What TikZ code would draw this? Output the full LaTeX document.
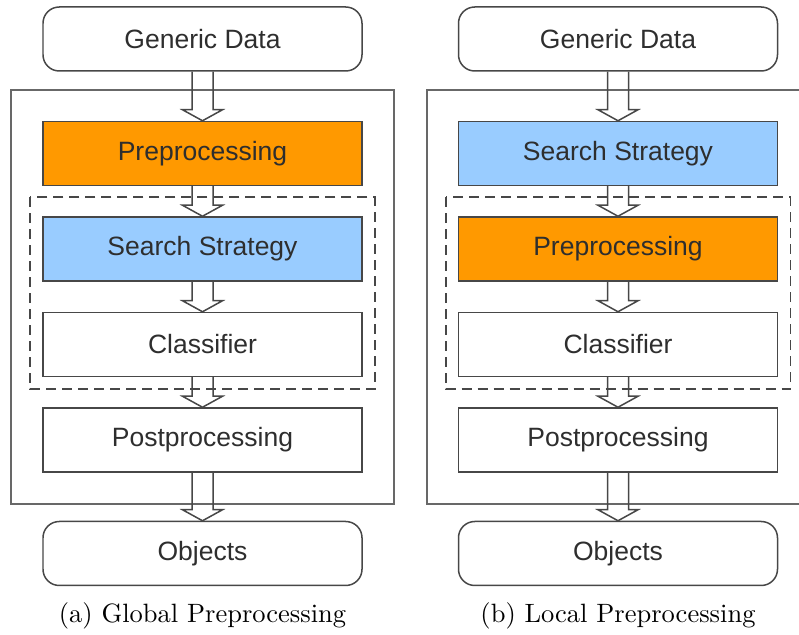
\documentclass[tikz,border=0pt]{standalone}
\usepackage{fontspec}
\setsansfont{Liberation Sans}
\usetikzlibrary{positioning, fit, calc}

\definecolor{prepfill}{HTML}{FF9900}
\definecolor{searchfill}{HTML}{99CCFF}
\definecolor{edgegray}{HTML}{474747}
\definecolor{framegray}{HTML}{686868}
\definecolor{textgray}{HTML}{2E2E2E}

% hollow block arrow from the bottom of one box to the top of the next
\newcommand{\flowarrow}[2]{%
  \draw[blockarrow] let \p1=(#1.south), \p2=(#2.north) in
    (\x1-4.2pt,\y1) -- (\x1-4.2pt,\y2+4.4pt) -- (\x1-8pt,\y2+4.4pt) -- (\x2,\y2)
    -- (\x1+8pt,\y2+4.4pt) -- (\x1+4.2pt,\y2+4.4pt) -- (\x1+4.2pt,\y1);}

\begin{document}
\begin{tikzpicture}[node distance=38.2pt, on grid,
    stage/.style={draw=edgegray, line width=0.6pt, minimum width=127.6pt,
      minimum height=25.6pt, inner sep=0pt, text=textgray,
      font=\sffamily\fontsize{10.6}{12}\selectfont},
    terminal/.style={stage, rounded corners=6.5pt},
    frame/.style={draw=framegray, line width=0.8pt, inner sep=12.4pt},
    dashbox/.style={draw=edgegray, line width=0.6pt, dash pattern=on 4pt off 2.4pt},
    blockarrow/.style={draw=edgegray, line width=0.6pt, line join=miter},
    caption/.style={font=\fontsize{10.6}{13}\selectfont}]
    \useasboundingbox (0,0) rectangle (319.6pt,-254pt);

    % (a) global preprocessing
    \node[terminal] (data1) at (81pt,-15.6pt) {Generic Data};
    \node[stage, fill=prepfill] (prep1) [below=45.8pt of data1] {Preprocessing};
    \node[stage, fill=searchfill] (search1) [below=of prep1] {Search Strategy};
    \node[stage] (class1) [below=of search1] {Classifier};
    \node[stage] (post1) [below=of class1] {Postprocessing};
    \node[terminal] (obj1) [below=45.4pt of post1] {Objects};
    \node[caption] (capa) [below=25pt of obj1] {(a) Global Preprocessing};

    % (b) local preprocessing
    \node[terminal] (data2) [right=166.2pt of data1] {Generic Data};
    \node[stage, fill=searchfill] (search2) [below=45.8pt of data2] {Search Strategy};
    \node[stage, fill=prepfill] (prep2) [below=of search2] {Preprocessing};
    \node[stage] (class2) [below=of prep2] {Classifier};
    \node[stage] (post2) [below=of class2] {Postprocessing};
    \node[terminal] (obj2) [below=45.4pt of post2] {Objects};
    \node[caption] (capb) [below=25pt of obj2] {(b) Local Preprocessing};

    % frames
    \node[frame, fit=(prep1)(post1)] (sys1) {};
    \node[frame, fit=(search2)(post2)] (sys2) {};
    \draw[dashbox] ($(search1.north west)+(-4.8pt,7.6pt)$) rectangle ($(class1.south east)+(4.8pt,-4.8pt)$);
    \draw[dashbox] ($(prep2.north west)+(-4.8pt,7.6pt)$) rectangle ($(class2.south east)+(4.8pt,-4.8pt)$);

    % arrows
    \flowarrow{data1}{prep1}
    \flowarrow{prep1}{search1}
    \flowarrow{search1}{class1}
    \flowarrow{class1}{post1}
    \flowarrow{post1}{obj1}
    \flowarrow{data2}{search2}
    \flowarrow{search2}{prep2}
    \flowarrow{prep2}{class2}
    \flowarrow{class2}{post2}
    \flowarrow{post2}{obj2}
\end{tikzpicture}
\end{document}
